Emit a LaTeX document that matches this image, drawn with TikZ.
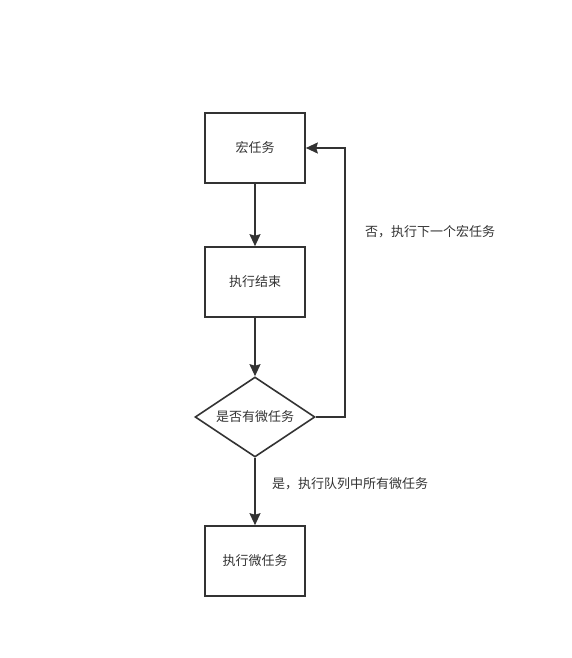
\documentclass[tikz,border=0pt]{standalone}
\usepackage{fontspec}
\setmainfont{Noto Sans CJK SC}
\usetikzlibrary{positioning,arrows.meta,shapes.geometric}
\definecolor{flline}{HTML}{333333}
\definecolor{fltext}{HTML}{333333}
\tikzset{
  task/.style   ={draw=flline, line width=1.6pt, minimum width=100pt, minimum height=70pt,
                  inner sep=0pt, font=\fontsize{13}{15}\selectfont, text=fltext},
  decide/.style ={diamond, draw=flline, line width=1.6pt, minimum width=120pt, minimum height=80pt,
                  inner sep=0pt, aspect=1.5, font=\fontsize{13}{15}\selectfont, text=fltext},
  flow/.style   ={-{Stealth[length=12pt,width=11pt,inset=1.5pt]}, line width=1.6pt, draw=flline},
  note/.style   ={font=\fontsize{13}{15}\selectfont, text=fltext, inner sep=0pt},
}
\begin{document}
\begin{tikzpicture}[x=1pt,y=-1pt]
  \useasboundingbox (0,0) rectangle (572,658);
  % boxes
  \node[task]   (macro) at (255,148) {宏任务};
  \node[task]   (done)  at (255,282) {执行结束};
  \node[decide] (check) at (255,417) {是否有微任务};
  \node[task]   (micro) at (255,561) {执行微任务};
  % connectors
  \coordinate (loop) at (345,148);
  \draw[flow] (macro) -- (done);
  \draw[flow] (done) -- (check);
  \draw[flow] (check) -- (micro);
  \draw[flow] (check.east) -| (loop) -- (macro.east);
  % labels
  \node[note] (nolabel)  at (430,232) {否，执行下一个宏任务};
  \node[note] (yeslabel) at (350,484) {是，执行队列中所有微任务};
\end{tikzpicture}
\end{document}
